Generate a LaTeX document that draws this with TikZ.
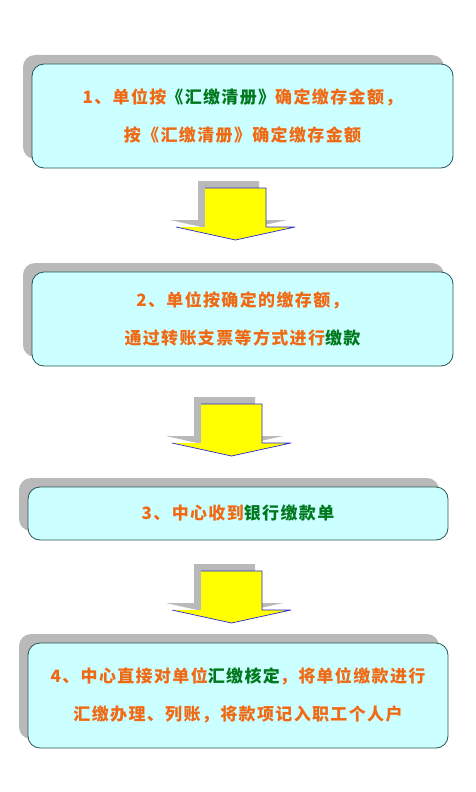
\documentclass[tikz,border=0pt]{standalone}
\usepackage{fontspec}
\usetikzlibrary{shadows}
\newfontfamily\cjk[LetterSpace=8]{Noto Sans CJK SC}
\definecolor{boxfill}{RGB}{204,255,255}
\definecolor{boxline}{RGB}{40,85,80}
\definecolor{stepora}{RGB}{240,105,20}
\definecolor{stepgrn}{RGB}{0,120,30}
\definecolor{arrowyel}{RGB}{255,255,0}
\definecolor{arrowblu}{RGB}{40,40,220}
\definecolor{shadegray}{RGB}{185,185,185}
\begin{document}
\begin{tikzpicture}[%
    x = 1pt, y = -1pt,
    stepbox/.style = {rectangle, rounded corners = 12pt, draw = boxline, line width = 0.8pt, fill = boxfill,
        align = center, inner sep = 0pt, text = stepora,
        font = \cjk\bfseries\fontsize{17}{38}\selectfont,
        drop shadow = {shadow xshift = -9pt, shadow yshift = 9pt, fill = shadegray, opacity = 1}},
    arrowshade/.style = {fill = shadegray},
    arrowbody/.style = {fill = arrowyel},
    arrowedge/.style = {draw = arrowblu, line width = 0.7pt, line join = round}]

    \useasboundingbox (0, 0) rectangle (475, 792);

    \node[stepbox, minimum width = 421pt, minimum height = 104pt] (collect) at (242.5, 116)
        {1、单位按\textcolor{stepgrn}{《汇缴清册》}确定缴存金额，\\按《汇缴清册》确定缴存金额};
    \node[stepbox, minimum width = 421pt, minimum height = 94pt] (payment) at (242.5, 319)
        {2、单位按确定的缴存额，\\通过转账支票等方式进行\textcolor{stepgrn}{缴款}};
    \node[stepbox, minimum width = 420pt, minimum height = 53pt] (receipt) at (238, 513.5)
        {3、中心收到\textcolor{stepgrn}{银行缴款单}};
    \node[stepbox, minimum width = 420pt, minimum height = 105pt] (account) at (238, 695.5)
        {4、中心直接对单位\textcolor{stepgrn}{汇缴核定}，将单位缴款进行\\汇缴办理、列账，将款项记入职工个人户};

    \foreach \ax/\ay in {205/188, 201/404, 201/571} {
        \fill[arrowshade] (\ax-7, \ay-7) -- (\ax+54, \ay-7) -- (\ax+54, \ay+32) -- (\ax+82, \ay+32)
            -- (\ax+23.5, \ay+45) -- (\ax-35, \ay+32) -- (\ax-7, \ay+32) -- cycle;
        \fill[arrowbody] (\ax, \ay) -- (\ax+61, \ay) -- (\ax+61, \ay+39) -- (\ax+90, \ay+39)
            -- (\ax+30.5, \ay+52) -- (\ax-29, \ay+39) -- (\ax, \ay+39) -- cycle;
        \draw[arrowedge] (\ax, \ay) -- (\ax+61, \ay) -- (\ax+61, \ay+39) -- (\ax+90, \ay+39)
            -- (\ax+30.5, \ay+52) -- (\ax-29, \ay+39);
    }
\end{tikzpicture}
\end{document}
